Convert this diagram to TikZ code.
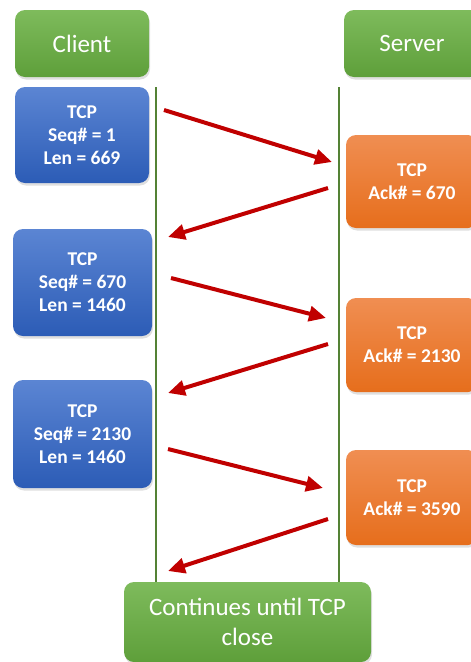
\documentclass[tikz,border=0pt]{standalone}
\usepackage{fontspec}
\setmainfont{Carlito}
\usetikzlibrary{arrows.meta,shadows}
\definecolor{gtop}{HTML}{7EBB5C}
\definecolor{gbot}{HTML}{5E9F3A}
\definecolor{btop}{HTML}{5B85D3}
\definecolor{bbot}{HTML}{2C5CB6}
\definecolor{otop}{HTML}{F08E52}
\definecolor{obot}{HTML}{E66E1C}
\definecolor{lifegreen}{HTML}{548235}
\definecolor{arrred}{HTML}{C00000}
\tikzset{
  box/.style={rounded corners=10pt, text=white, align=center, inner sep=0pt,
    drop shadow={opacity=0.25, shadow xshift=1pt, shadow yshift=-2.5pt}},
  greenbox/.style={box, top color=gtop, bottom color=gbot, font=\fontsize{25}{30}\selectfont},
  bluebox/.style={box, top color=btop, bottom color=bbot, font=\bfseries\fontsize{19.5}{23}\selectfont},
  orangebox/.style={box, top color=otop, bottom color=obot, font=\bfseries\fontsize{19.5}{23}\selectfont},
  life/.style={lifegreen, line width=2.8pt},
  msg/.style={arrred, line width=4pt, -{Triangle[length=17pt,width=15pt]}}
}
\begin{document}
\begin{tikzpicture}[x=1pt,y=-1pt]
\useasboundingbox (0,0) rectangle (471,662);
\clip (0,0) rectangle (471,662);
% lifelines
\coordinate (lt) at (156,87);
\coordinate (lb) at (156,582);
\coordinate (rt) at (339,87);
\coordinate (rb) at (339,582);
\draw[life] (lt) -- (lb);
\draw[life] (rt) -- (rb);
% header boxes
\node[greenbox, minimum width=134pt, minimum height=67pt] (client) at (82,43.5) {Client};
\node[greenbox, minimum width=136pt, minimum height=67pt] (server) at (412,43.5) {Server};
% client packets
\node[bluebox, minimum width=134pt, minimum height=96pt] (b1) at (82,135) {TCP\\Seq\# = 1\\Len = 669};
\node[bluebox, minimum width=139pt, minimum height=107pt] (b2) at (82.5,282.5) {TCP\\Seq\# = 670\\Len = 1460};
\node[bluebox, minimum width=139pt, minimum height=108pt] (b3) at (82.5,434) {TCP\\Seq\# = 2130\\Len = 1460};
% server acks
\node[orangebox, minimum width=132pt, minimum height=93pt] (o1) at (412,181.5) {TCP\\Ack\# = 670};
\node[orangebox, minimum width=132pt, minimum height=94pt] (o2) at (412,345) {TCP\\Ack\# = 2130};
\node[orangebox, minimum width=132pt, minimum height=95pt] (o3) at (412,497.5) {TCP\\Ack\# = 3590};
% bottom box
\node[greenbox, minimum width=247pt, minimum height=80pt] (close) at (247.5,622) {Continues until TCP\\close};
% arrow endpoints
\coordinate (a1s) at (164,110);
\coordinate (a1e) at (332,162);
\coordinate (a2s) at (328,188);
\coordinate (a2e) at (168,237);
\coordinate (a3s) at (171,278);
\coordinate (a3e) at (326,318);
\coordinate (a4s) at (328,344);
\coordinate (a4e) at (168,393);
\coordinate (a5s) at (168,449);
\coordinate (a5e) at (323,488);
\coordinate (a6s) at (328,519);
\coordinate (a6e) at (168,571);
\draw[msg] (a1s) -- (a1e);
\draw[msg] (a2s) -- (a2e);
\draw[msg] (a3s) -- (a3e);
\draw[msg] (a4s) -- (a4e);
\draw[msg] (a5s) -- (a5e);
\draw[msg] (a6s) -- (a6e);
\end{tikzpicture}
\end{document}
